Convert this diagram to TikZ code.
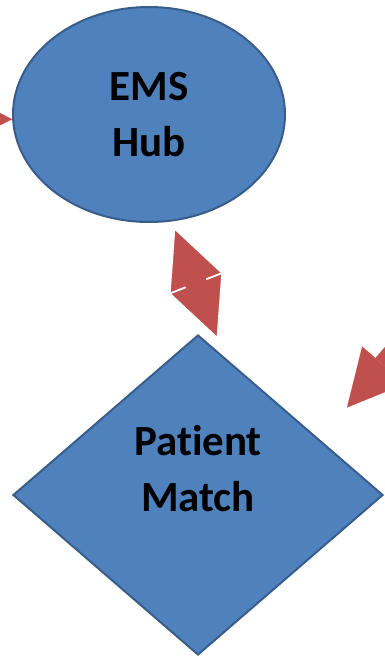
\documentclass[tikz,border=0pt]{standalone}
\usepackage{fontspec}
\setmainfont{Carlito}[Ligatures=NoCommon]
\usepackage{tikz}
\usetikzlibrary{shapes.geometric, arrows.meta, positioning, calc}

\definecolor{shapeblue}{HTML}{4F81BD}
\definecolor{shapeborder}{HTML}{385D8A}
\definecolor{arrowred}{HTML}{C0504D}

\tikzset{
    shapebox/.style={draw=shapeborder, line width=2pt, fill=shapeblue, align=center, font=\fontsize{43}{56}\selectfont\bfseries},
    bigarrow/.style={draw=arrowred, line width=22pt, -{Triangle[width=57pt 0, length=56pt 0, line width=0.1pt, fill=arrowred]}},
    dblarrow/.style={draw=arrowred, line width=22pt,
        {Triangle[width=58pt 0, length=61pt 0, line width=1.5pt, color=white, fill=arrowred]}-{Triangle[width=58pt 0, length=61pt 0, line width=1.5pt, color=white, fill=arrowred]},
        postaction={draw=arrowred, -, line width=22pt, shorten <=50pt, shorten >=45pt}}
}

\begin{document}
\begin{tikzpicture}[x=1pt, y=-1pt]
    \useasboundingbox (0,0) rectangle (384,659);

    % Nodes
    \node [shapebox, ellipse, minimum width=272pt, minimum height=215pt] (hub) at (149,114.5) {EMS\\Hub};
    \node [shapebox, diamond, minimum width=370pt, minimum height=320pt, text depth=54pt] (match) at (198,495) {Patient\\Match};

    % Incoming ends
    \coordinate (leftsrc) at (-150,118);
    \coordinate (righttip) at ($(match.north east)+(56,-7)$);
    \coordinate (rightsrc) at ($(righttip)+(98,-113)$);

    % Connections
    \draw[bigarrow] (leftsrc) -- (hub.182);
    \draw[bigarrow] (rightsrc) -- (righttip);
    \draw[dblarrow, shorten <=6pt] (hub.-78) -- ([xshift=20pt, yshift=-5.5pt]match.north);
\end{tikzpicture}
\end{document}
